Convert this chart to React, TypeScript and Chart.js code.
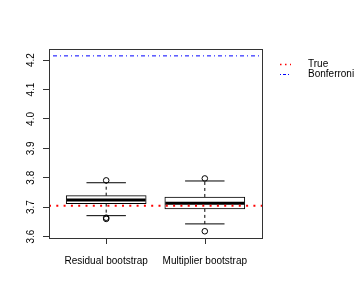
import React, { useEffect, useRef } from "react";
import { Chart, registerables } from "chart.js";

Chart.register(...registerables);

const categories = ["Residual bootstrap", "Multiplier bootstrap"];
const q1 = [3.712, 3.694];
const medians = [3.7244, 3.713];
const q3 = [3.739, 3.7346];
const lowerWhisker = [3.671, 3.643];
const upperWhisker = [3.783, 3.789];
const outliers = [
  [3.791, 3.66, 3.664],
  [3.7976, 3.618],
];
const trueValue = 3.705;
const bonferroniValue = 4.2146;
const yTicks = [3.6, 3.7, 3.8, 3.9, 4.0, 4.1, 4.2];
const yTickLabels = ["3.6", "3.7", "3.8", "3.9", "4.0", "4.1", "4.2"];
const yLimits = [3.595, 4.238];
const xLimits = [0.42, 2.58];
const legendLabels = ["True", "Bonferroni"];

const FONT = "'Liberation Sans', Arial, Helvetica, sans-serif";
const AXIS = "#333333";
const BOX_HALF = 0.4;
const CAP_HALF = 0.2;
const xPositions = categories.map((_, i) => i + 1);

function segments(pairs: { x0: number; x1: number; y0: number; y1: number }[]) {
  const out: { x: number; y: number | null }[] = [];
  pairs.forEach((p, i) => {
    if (i > 0) out.push({ x: p.x0, y: null });
    out.push({ x: p.x0, y: p.y0 });
    out.push({ x: p.x1, y: p.y1 });
  });
  return out;
}

const overlayPlugin = {
  id: "rOverlay",
  afterDraw(chart: any) {
    const { ctx, chartArea, scales } = chart;
    ctx.save();
    ctx.setLineDash([]);
    ctx.lineWidth = 1;
    ctx.strokeStyle = AXIS;
    // x tick marks
    const by = Math.round(chartArea.bottom);
    xPositions.forEach((v) => {
      const px = Math.round(scales.x.getPixelForValue(v)) + 0.5;
      ctx.beginPath();
      ctx.moveTo(px, by);
      ctx.lineTo(px, by + 6);
      ctx.stroke();
    });
    // plot box
    ctx.strokeRect(
      Math.round(chartArea.left) + 0.5,
      Math.round(chartArea.top) + 0.5,
      Math.round(chartArea.right - chartArea.left),
      Math.round(chartArea.bottom - chartArea.top)
    );
    // rotated y tick labels
    ctx.fillStyle = "#000";
    ctx.font = `10px ${FONT}`;
    ctx.textAlign = "center";
    ctx.textBaseline = "middle";
    yTicks.forEach((v, i) => {
      const y = scales.y.getPixelForValue(v);
      ctx.save();
      ctx.translate(chartArea.left - 17.5, y);
      ctx.rotate(-Math.PI / 2);
      ctx.fillText(yTickLabels[i], 0, 0);
      ctx.restore();
    });
    // legend
    const lx0 = chartArea.right + 18;
    const lx1 = lx0 + 11;
    const tx = chartArea.right + 46;
    const rows = [
      { y: chartArea.top + 15, color: "#ff0000", dash: [1.5, 3.5], width: 1.5 },
      { y: chartArea.top + 25, color: "#0000ff", dash: [1, 2, 3, 2], width: 1 },
    ];
    rows.forEach((r, i) => {
      ctx.strokeStyle = r.color;
      ctx.lineWidth = r.width;
      ctx.setLineDash(r.dash);
      ctx.beginPath();
      ctx.moveTo(lx0, r.y + 0.5);
      ctx.lineTo(lx1, r.y + 0.5);
      ctx.stroke();
      ctx.setLineDash([]);
      ctx.fillStyle = "#000";
      ctx.textAlign = "left";
      ctx.textBaseline = "middle";
      ctx.fillText(legendLabels[i], tx, r.y);
    });
    ctx.restore();
  },
};

export default function App() {
  const ref = useRef<HTMLCanvasElement | null>(null);

  useEffect(() => {
    if (!ref.current) return;
    Chart.defaults.font.family = FONT;
    Chart.defaults.font.size = 10;
    Chart.defaults.color = "#000";

    const xs = xPositions;

    const boxData = xs.map((x, i) => ({ x, y: [q1[i], q3[i]] }));
    const medianData = segments(
      xs.map((x, i) => ({ x0: x - BOX_HALF, x1: x + BOX_HALF, y0: medians[i], y1: medians[i] }))
    );
    const whiskerData = segments(
      xs.flatMap((x, i) => [
        { x0: x, x1: x, y0: q3[i], y1: upperWhisker[i] },
        { x0: x, x1: x, y0: q1[i], y1: lowerWhisker[i] },
      ])
    );
    const capData = segments(
      xs.flatMap((x, i) => [
        { x0: x - CAP_HALF, x1: x + CAP_HALF, y0: upperWhisker[i], y1: upperWhisker[i] },
        { x0: x - CAP_HALF, x1: x + CAP_HALF, y0: lowerWhisker[i], y1: lowerWhisker[i] },
      ])
    );
    const outlierData = xs.flatMap((x, i) => outliers[i].map((y) => ({ x, y })));

    const lineBase = {
      type: "line" as const,
      pointRadius: 0,
      pointHoverRadius: 0,
      fill: false,
      tension: 0,
      spanGaps: false,
    };

    const chart = new Chart(ref.current, {
      type: "bar",
      data: {
        datasets: [
          {
            ...lineBase,
            label: "True",
            data: [
              { x: xLimits[0], y: trueValue },
              { x: xLimits[1], y: trueValue },
            ],
            borderColor: "#ff0000",
            borderWidth: 2,
            borderDash: [2, 5.3],
            order: 0,
          } as any,
          {
            ...lineBase,
            label: "Bonferroni",
            data: [
              { x: xLimits[0], y: bonferroniValue },
              { x: xLimits[1], y: bonferroniValue },
            ],
            borderColor: "#0000ff",
            borderWidth: 1,
            borderDash: [1, 3, 4, 3],
            order: 0,
          } as any,
          {
            type: "scatter",
            label: "outliers",
            data: outlierData,
            pointStyle: "circle",
            pointRadius: 2.8,
            pointHoverRadius: 2.8,
            pointBackgroundColor: "rgba(0,0,0,0)",
            pointBorderColor: "#000",
            pointBorderWidth: 1,
            order: 1,
          } as any,
          {
            ...lineBase,
            label: "median",
            data: medianData,
            borderColor: "#000",
            borderWidth: 3,
            borderCapStyle: "butt",
            order: 2,
          } as any,
          {
            ...lineBase,
            label: "caps",
            data: capData,
            borderColor: "#000",
            borderWidth: 1,
            order: 3,
          } as any,
          {
            ...lineBase,
            label: "whiskers",
            data: whiskerData,
            borderColor: "#000",
            borderWidth: 1,
            borderDash: [3, 3],
            order: 3,
          } as any,
          {
            type: "bar",
            label: "box",
            data: boxData,
            backgroundColor: "#ffffff",
            borderColor: "#000",
            borderWidth: 1,
            borderSkipped: false,
            barThickness: 80,
            order: 4,
          } as any,
        ],
      },
      options: {
        animation: false,
        responsive: false,
        events: [],
        layout: { padding: { top: 49, right: 98, left: 0, bottom: 0 } },
        plugins: {
          legend: { display: false },
          tooltip: { enabled: false },
        },
        scales: {
          x: {
            type: "linear",
            min: xLimits[0],
            max: xLimits[1],
            offset: false,
            afterBuildTicks: (scale: any) => {
              scale.ticks = xs.map((v) => ({ value: v }));
            },
            afterFit: (scale: any) => {
              scale.height = 62;
            },
            ticks: {
              autoSkip: false,
              maxRotation: 0,
              minRotation: 0,
              padding: 9,
              color: "#000",
              font: { size: 10, family: FONT },
              callback: (_v: any, i: number) => categories[i],
            },
            grid: { display: false },
            border: { display: true, color: AXIS },
          },
          y: {
            type: "linear",
            min: yLimits[0],
            max: yLimits[1],
            afterBuildTicks: (scale: any) => {
              scale.ticks = yTicks.map((v) => ({ value: v }));
            },
            afterFit: (scale: any) => {
              scale.width = 49;
            },
            ticks: {
              color: "rgba(0,0,0,0)",
              padding: 4,
              callback: (_v: any, i: number) => yTickLabels[i],
            },
            grid: {
              display: true,
              offset: false,
              drawOnChartArea: false,
              drawTicks: true,
              tickLength: 6,
              color: AXIS,
            },
            border: { display: true, color: AXIS },
          },
        },
      } as any,
      plugins: [overlayPlugin],
    });

    return () => chart.destroy();
  }, []);

  return (
    <div style={{ position: "fixed", left: 0, top: 0, width: 360, height: 300, background: "#fff" }}>
      <canvas ref={ref} width={360} height={300} style={{ width: 360, height: 300, display: "block" }} />
    </div>
  );
}
